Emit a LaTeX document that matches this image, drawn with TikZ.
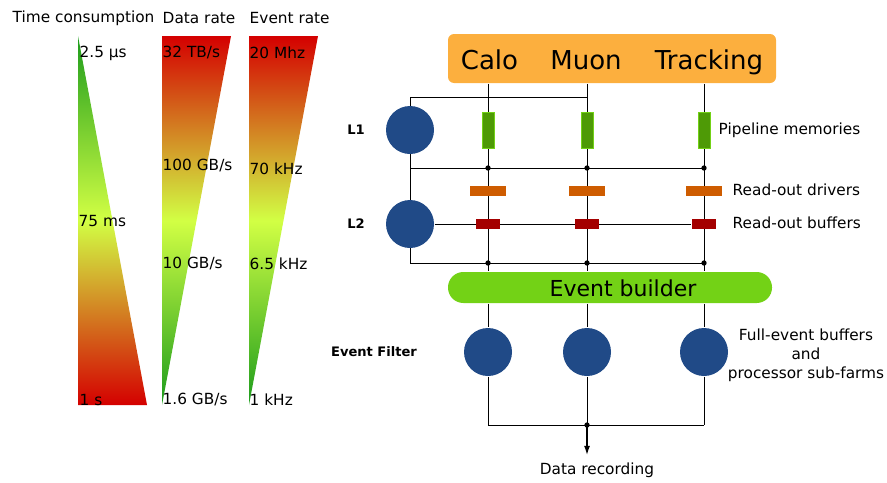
\documentclass[tikz,border=0pt]{standalone}
\usepackage{fontspec}
\setmainfont{DejaVu Sans}
\usetikzlibrary{arrows.meta,backgrounds}

\definecolor{detorange}{HTML}{FCAF3E}
\definecolor{pipegreen}{HTML}{4E9A06}
\definecolor{pipeedge}{HTML}{73D216}
\definecolor{rodorange}{HTML}{CE5C00}
\definecolor{robred}{HTML}{A40000}
\definecolor{ebgreen}{HTML}{73D216}
\definecolor{unitblue}{HTML}{204A87}
\definecolor{rateRed}{HTML}{D40000}
\definecolor{rateMid}{HTML}{D2FF44}
\definecolor{rateGreen}{HTML}{1C9C1C}

% red-to-green scales (bottom colour first, path spans 25bp..75bp)
\pgfdeclareverticalshading{timescale}{100bp}{color(0bp)=(rateRed); color(25bp)=(rateRed); color(50bp)=(rateMid); color(75bp)=(rateGreen); color(100bp)=(rateGreen)}
\pgfdeclareverticalshading{ratescale}{100bp}{color(0bp)=(rateGreen); color(25bp)=(rateGreen); color(50bp)=(rateMid); color(75bp)=(rateRed); color(100bp)=(rateRed)}

\tikzset{every picture/.style={line width=1.1pt}}
\tikzset{
  unit/.style={circle,fill=unitblue,inner sep=0pt,minimum size=36pt},
  pipemem/.style={rectangle,fill=pipegreen,draw=pipeedge,line width=0.5pt,inner sep=0pt,minimum width=9pt,minimum height=27pt},
  rodriver/.style={rectangle,fill=rodorange,inner sep=0pt,minimum width=27pt,minimum height=7.5pt},
  robuffer/.style={rectangle,fill=robred,inner sep=0pt,minimum width=18pt,minimum height=7.5pt},
  txt/.style={inner sep=0pt,font=\fontsize{11.5}{14.25}\selectfont},
  lvl/.style={inner sep=0pt,font=\fontsize{9.8}{11}\selectfont\bfseries},
  detlabel/.style={inner sep=0pt,anchor=base,font=\fontsize{19.5}{22}\selectfont},
}

\begin{document}
\begin{tikzpicture}[x=0.75pt,y=0.75pt,yscale=-1,xscale=1]
\useasboundingbox (0,0) rectangle (887,482);

%Shape: Time consumption wedge
\shade [shading=timescale] (78,36) -- (147,405) -- (78,405) -- cycle ;
%Shape: Data rate wedge
\shade [shading=ratescale] (162,36) -- (231,36) -- (162,405) -- cycle ;
%Shape: Event rate wedge
\shade [shading=ratescale] (249,36) -- (318,36) -- (249,405) -- cycle ;

% Text Node
\node [txt, anchor=west] (tchead) at (12,18) {Time consumption};
\node [txt, anchor=west] (drhead) at (162,18) {Data rate};
\node [txt, anchor=west] (erhead) at (249,18) {Event rate};

% Text Node
\node [txt, anchor=west] (tc1) at (79,53) {2.5 µs};
\node [txt, anchor=west] (tc2) at (78,221) {75 ms};
\node [txt, anchor=west] (tc3) at (79,400) {1 s};
% Text Node
\node [txt, anchor=west] (dr1) at (162,53) {32 TB/s};
\node [txt, anchor=west] (dr2) at (162,166) {100 GB/s};
\node [txt, anchor=west] (dr3) at (162,264) {10 GB/s};
\node [txt, anchor=west] (dr4) at (162,400) {1.6 GB/s};
% Text Node
\node [txt, anchor=west] (er1) at (249,53) {20 Mhz};
\node [txt, anchor=west] (er2) at (249,169) {70 kHz};
\node [txt, anchor=west] (er3) at (249,264) {6.5 kHz};
\node [txt, anchor=west] (er4) at (249,400) {1 kHz};

%Shape: Detector box
\node [fill=detorange, rounded corners=4.5pt, inner sep=0pt, minimum width=246pt, minimum height=36.75pt] (det) at (612,58.5) {};
\node [detlabel] (calo) at (489.5,69) {Calo};
\node [detlabel] (muon) at (586,69) {Muon};
\node [detlabel] (trk) at (709,69) {Tracking};

%Shape: Trigger levels
\node [unit] (l1) at (410,130) {};
\node [unit] (l2) at (410,224) {};
\node [lvl] (l1lab) at (356,130) {L1};
\node [lvl] (l2lab) at (356,224) {L2};

%Shape: Pipeline memories, drivers, buffers
\node [pipemem] (pm1) at (488,130) {};
\node [pipemem] (pm2) at (587,130) {};
\node [pipemem] (pm3) at (704,130) {};
\node [rodriver] (rod1) at (488,191) {};
\node [rodriver] (rod2) at (587,191) {};
\node [rodriver] (rod3) at (704,191) {};
\node [robuffer] (rob1) at (488,224) {};
\node [robuffer] (rob2) at (587,224) {};
\node [robuffer] (rob3) at (704,224) {};

% Text Node
\node [txt, anchor=west] (pmlab) at (718,130) {Pipeline memories};
\node [txt, anchor=west] (rodlab) at (732,190) {Read-out drivers};
\node [txt, anchor=west] (roblab) at (732,223) {Read-out buffers};

%Shape: Event builder
\node [fill=ebgreen, rounded corners=11.5pt, inner sep=0pt, minimum width=243pt, minimum height=23.25pt] (eb) at (610,287.5) {};
\node [inner sep=0pt, font=\fontsize{16.5}{19}\selectfont] (ebtext) at (623,288) {Event builder};

%Shape: Event filter farms
\node [unit] (ef1) at (488,352) {};
\node [unit] (ef2) at (587,352) {};
\node [unit] (ef3) at (704,352) {};
\node [lvl] (eflab) at (374,352) {Event Filter};
\node [txt, align=center] (farmlab) at (806,355) {Full-event buffers\\and\\processor sub-farms};

% Text Node
\node [txt] (rec) at (597,470) {Data recording};

\coordinate (l1top) at (410,97);
\coordinate (busa) at (410,168);
\coordinate (busb) at (410,263);
\coordinate (sink) at (587,425);

%Straight Lines
\begin{scope}[on background layer]
\draw (l1top) -- (busb);
\draw (l1top) -- (l1top -| pm2);
\draw (busa) -- (busa -| pm3);
\draw (busb) -- (busb -| pm3);
\draw (l2) -- (rob3);
\foreach \i in {1,2,3} {
  \draw (det.south -| pm\i) -- (eb.north -| pm\i);
  \draw (eb.south -| ef\i) -- (ef\i) -- (ef\i |- sink);
}
\draw (sink -| ef1) -- (sink -| ef3);
\end{scope}

% junction dots
\foreach \i in {1,2,3} {
  \fill (busa -| pm\i) circle (2pt);
  \fill (busb -| pm\i) circle (2pt);
}
\fill (sink) circle (2pt);

%Straight Lines
\draw [-{Latex[length=7pt,width=4.5pt]}, shorten >=5pt] (sink) -- (sink |- rec.north);

\end{tikzpicture}
\end{document}
